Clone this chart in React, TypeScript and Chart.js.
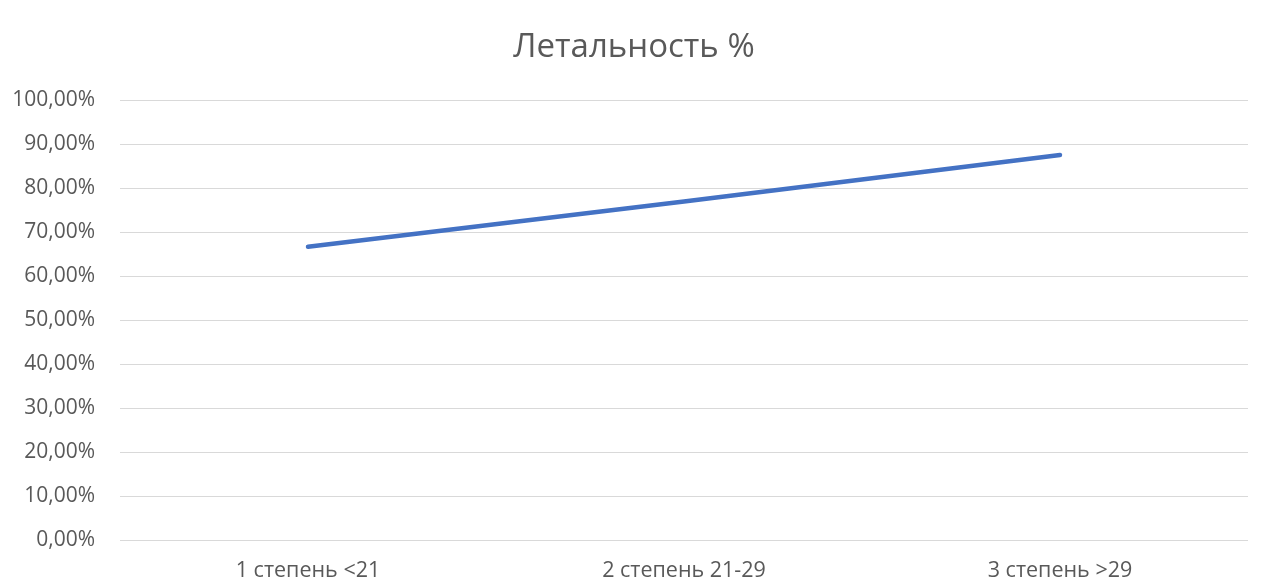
import React, { useEffect, useRef } from "react";
import { Chart, registerables } from "chart.js";

Chart.register(...registerables);

const categories = ["1 степень <21", "2 степень 21-29", "3 степень >29"];
const lethality = [66.67, 76.92, 87.5];
const yTicks = [0, 10, 20, 30, 40, 50, 60, 70, 80, 90, 100];
const titleText = "Летальность %";

const TEXT = "#595959";
const FONT = "'Open Sans', 'Noto Sans', sans-serif";

// Draws the heading centred over the whole figure (plot + value axis).
const headingPlugin = {
  id: "heading",
  afterDraw(chart: any) {
    const { ctx } = chart;
    ctx.save();
    ctx.fillStyle = TEXT;
    ctx.font = `normal 33px ${FONT}`;
    ctx.textAlign = "center";
    ctx.textBaseline = "alphabetic";
    ctx.fillText(titleText, 634, 56.5);
    ctx.restore();
  },
};

export default function App() {
  const ref = useRef<HTMLCanvasElement | null>(null);

  useEffect(() => {
    document.body.style.margin = "0";
    const canvas = ref.current;
    if (!canvas) return;
    const chart = new Chart(canvas, {
      type: "line",
      data: {
        labels: categories,
        datasets: [
          {
            label: titleText,
            data: lethality,
            borderColor: "#4472C4",
            backgroundColor: "#4472C4",
            borderWidth: 4.5,
            borderCapStyle: "round",
            borderJoinStyle: "round",
            pointRadius: 0,
            tension: 0,
          },
        ],
      },
      plugins: [headingPlugin],
      options: {
        animation: false,
        responsive: true,
        maintainAspectRatio: false,
        layout: { padding: { left: 8, right: 40, top: 100, bottom: 0 } },
        plugins: {
          legend: { display: false },
          tooltip: { enabled: false },
          title: { display: false },
        },
        scales: {
          x: {
            offset: true,
            afterFit: (scale: any) => {
              scale.height = 43;
            },
            grid: { display: false, drawTicks: false },
            border: { display: false },
            ticks: {
              color: TEXT,
              font: { family: FONT, size: 21.5 },
              padding: 17.5,
              maxRotation: 0,
            },
          },
          y: {
            min: 0,
            max: 100,
            afterBuildTicks: (scale: any) => {
              scale.ticks = yTicks.map((v) => ({ value: v }));
            },
            afterFit: (scale: any) => {
              scale.width = 112;
            },
            grid: { color: "#d9d9d9", lineWidth: 1, drawTicks: false },
            border: { display: false },
            ticks: {
              color: TEXT,
              font: { family: FONT, size: 21 },
              padding: 25,
              callback: (v: any) => Number(v).toFixed(2).replace(".", ",") + "%",
            },
          },
        },
      },
    });
    return () => chart.destroy();
  }, []);

  return (
    <div style={{ position: "absolute", left: 0, top: 0, width: 1288, height: 583, background: "#fff" }}>
      <canvas ref={ref} />
    </div>
  );
}
